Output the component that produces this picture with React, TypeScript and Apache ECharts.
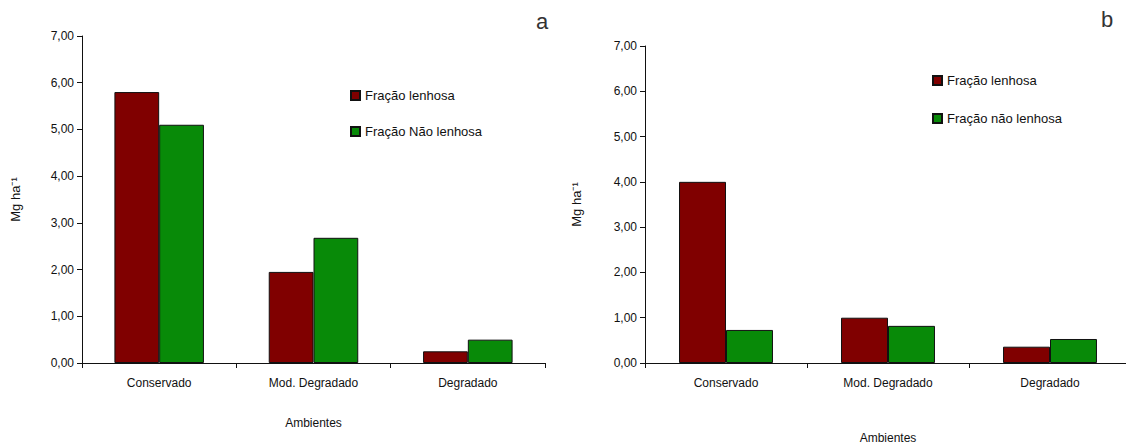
import React, { useEffect, useRef } from "react";
import * as echarts from "echarts";

const categories = ["Conservado", "Mod. Degradado", "Degradado"];
const lenhosaA = [5.8, 1.95, 0.25];
const naoLenhosaA = [5.1, 2.68, 0.5];
const lenhosaB = [4.0, 1.0, 0.36];
const naoLenhosaB = [0.73, 0.82, 0.53];
const yTicks = [0, 1, 2, 3, 4, 5, 6, 7];

const RED = "#800000";
const GREEN = "#088a08";
const FONT = "Liberation Sans, Arial, sans-serif";

export default function App() {
  const ref = useRef<HTMLDivElement>(null);
  useEffect(() => {
    if (!ref.current) return;
    const chart = echarts.init(ref.current, undefined, { renderer: "svg" });
    const yAxisBase = (nameGap: number) => ({
      type: "value",
      min: yTicks[0],
      max: yTicks[yTicks.length - 1],
      interval: 1,
      name: "Mg ha\u207B\u00B9",
      nameLocation: "middle",
      nameRotate: 90,
      nameGap,
      nameTextStyle: { fontFamily: FONT, fontSize: 13, color: "#111" },
      axisLine: { show: true, lineStyle: { color: "#111", width: 1 } },
      axisTick: { show: true, length: 5, lineStyle: { color: "#111" } },
      axisLabel: {
        fontFamily: FONT,
        fontSize: 12,
        color: "#111",
        margin: 8,
        formatter: (v: number) => v.toFixed(2).replace(".", ","),
      },
      splitLine: { show: false },
    });
    const xAxisBase = (gridIndex: number, nameGap: number) => ({
      type: "category",
      gridIndex,
      data: categories,
      name: "Ambientes",
      nameLocation: "middle",
      nameGap,
      nameTextStyle: { fontFamily: FONT, fontSize: 12, color: "#111" },
      axisLine: { show: true, lineStyle: { color: "#111", width: 1 } },
      axisTick: { show: true, length: 5, lineStyle: { color: "#111" } },
      axisLabel: { fontFamily: FONT, fontSize: 12, color: "#111", margin: 14 },
    });
    const barBase = {
      type: "bar",
      barGap: "0%",
      barCategoryGap: "42%",
      itemStyle: { borderColor: "#111", borderWidth: 1 },
    };
    chart.setOption({
      animation: false,
      backgroundColor: "#fff",
      grid: [
        { left: 82, top: 36, width: 463, height: 327, outerBoundsMode: "none", containLabel: false },
        { left: 645, top: 46, width: 486, height: 317, outerBoundsMode: "none", containLabel: false },
      ],
      xAxis: [xAxisBase(0, 54), xAxisBase(1, 69)],
      yAxis: [
        { ...yAxisBase(60), gridIndex: 0 },
        { ...yAxisBase(62), gridIndex: 1 },
      ],
      legend: [
        {
          orient: "vertical",
          left: 345,
          top: 84,
          icon: "rect",
          itemWidth: 9,
          itemHeight: 9,
          itemGap: 23,
          data: ["Fração lenhosa", "Fração Não lenhosa"],
          textStyle: { fontFamily: FONT, fontSize: 13, color: "#111" },
        },
        {
          orient: "vertical",
          left: 927,
          top: 69,
          icon: "rect",
          itemWidth: 9,
          itemHeight: 9,
          itemGap: 25,
          data: ["Fração lenhosa", "Fração não lenhosa"],
          textStyle: { fontFamily: FONT, fontSize: 13, color: "#111" },
        },
      ],
      graphic: [
        {
          type: "text",
          left: 536,
          top: 10,
          style: { text: "a", fontFamily: FONT, fontSize: 22, fill: "#333" },
        },
        {
          type: "text",
          left: 1101,
          top: 8,
          style: { text: "b", fontFamily: FONT, fontSize: 22, fill: "#333" },
        },
      ],
      series: [
        { ...barBase, name: "Fração lenhosa", xAxisIndex: 0, yAxisIndex: 0, data: lenhosaA, itemStyle: { ...barBase.itemStyle, color: RED } },
        { ...barBase, name: "Fração Não lenhosa", xAxisIndex: 0, yAxisIndex: 0, data: naoLenhosaA, itemStyle: { ...barBase.itemStyle, color: GREEN } },
        { ...barBase, name: "Fração lenhosa", xAxisIndex: 1, yAxisIndex: 1, data: lenhosaB, itemStyle: { ...barBase.itemStyle, color: RED } },
        { ...barBase, name: "Fração não lenhosa", xAxisIndex: 1, yAxisIndex: 1, data: naoLenhosaB, itemStyle: { ...barBase.itemStyle, color: GREEN } },
      ],
    });
    return () => chart.dispose();
  }, []);
  return (
    <div
      ref={ref}
      style={{ position: "fixed", left: 0, top: 0, width: 1126, height: 444, background: "#fff" }}
    />
  );
}
